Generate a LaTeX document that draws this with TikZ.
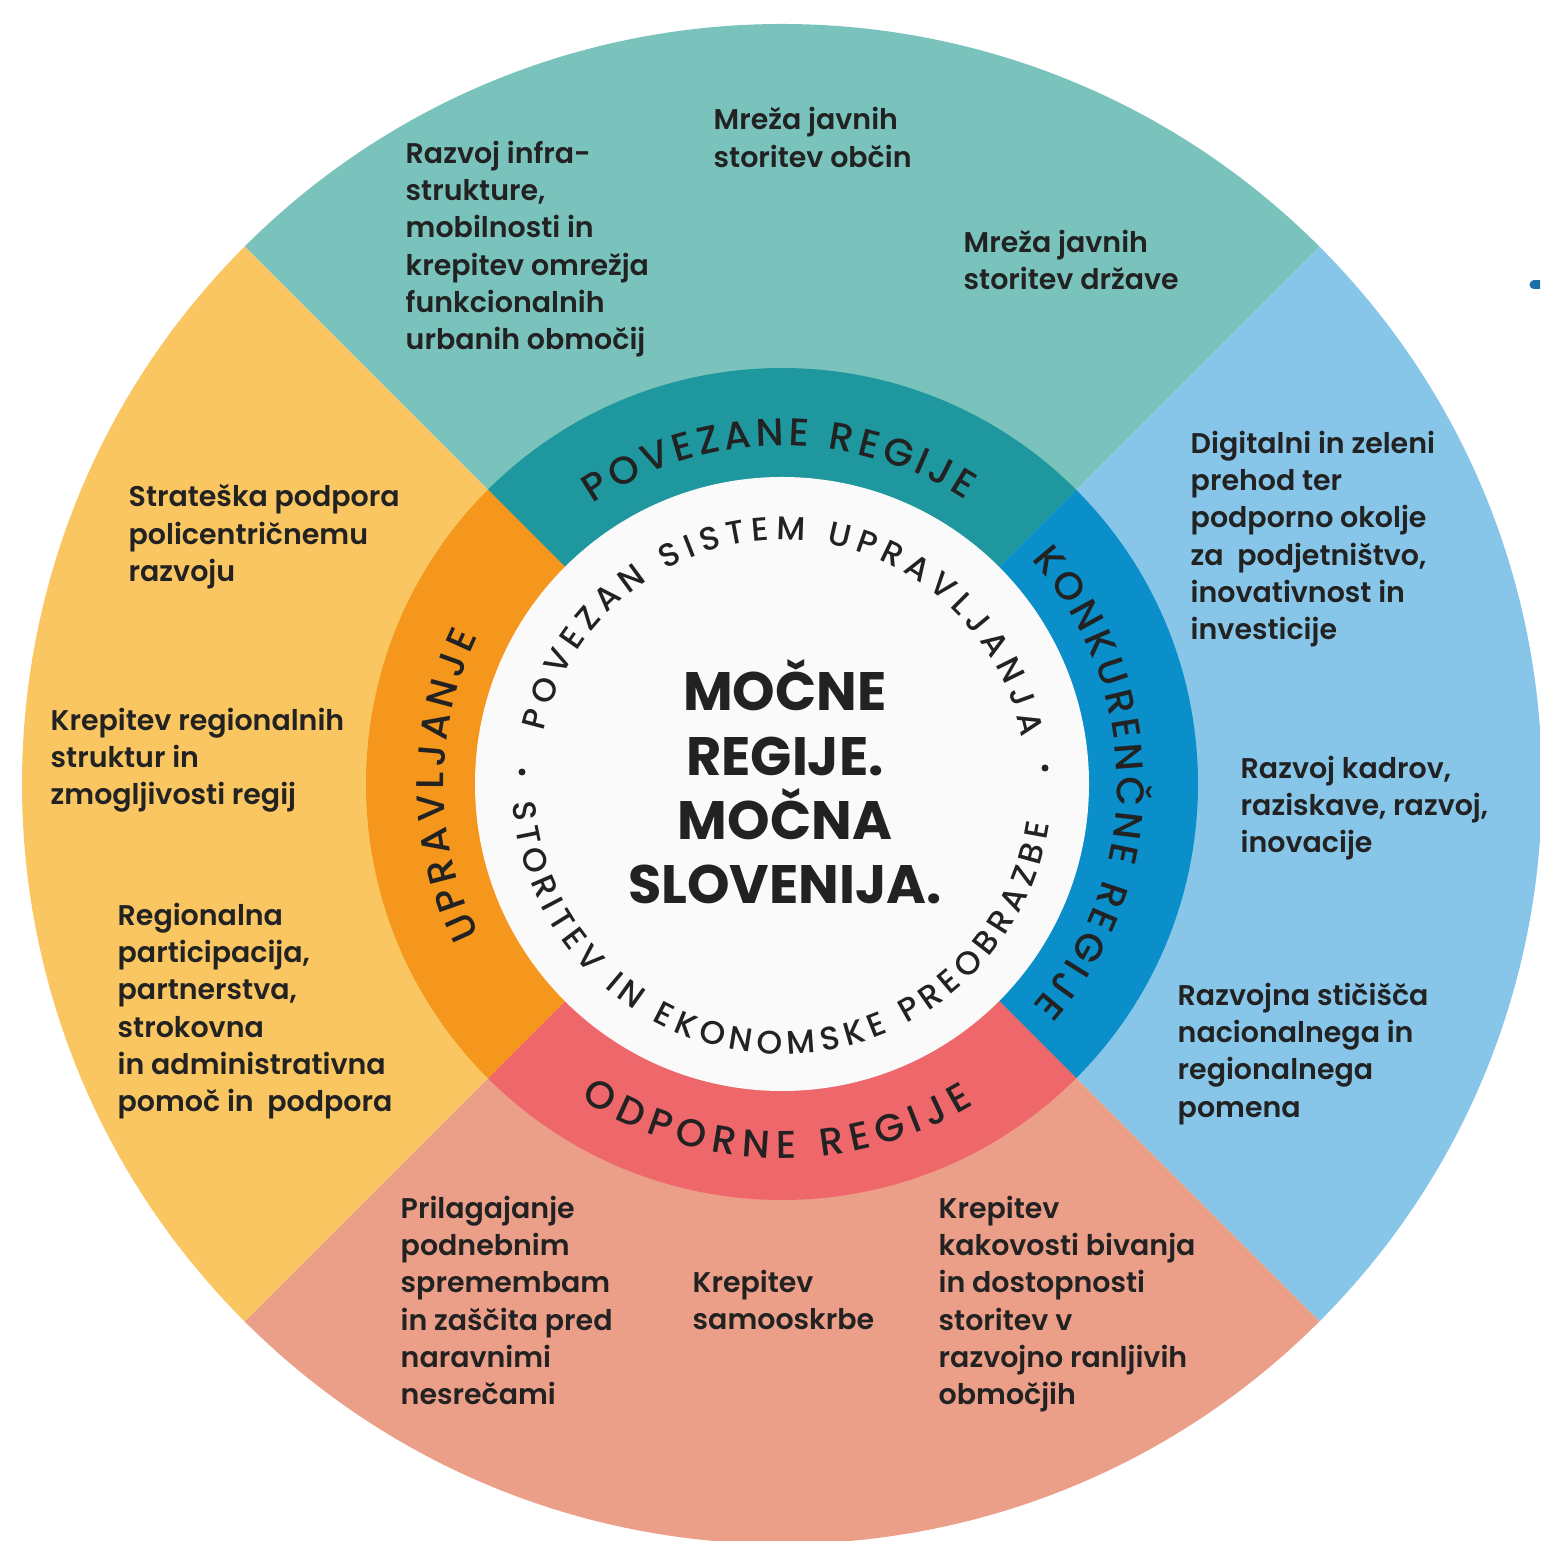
\documentclass[tikz,border=0pt]{standalone}
\usepackage{fontspec}
\setmainfont{Poppins}[UprightFont=*-SemiBold, BoldFont=*-Bold]
\newfontfamily\ringfont{Poppins}[UprightFont=*-Medium]
\usepackage{tikz}
\usetikzlibrary{positioning, decorations.text}

\definecolor{tealout}{HTML}{79C3BC}
\definecolor{tealring}{HTML}{1F979E}
\definecolor{blueout}{HTML}{87C6E9}
\definecolor{bluering}{HTML}{0A8FCB}
\definecolor{salmonout}{HTML}{EC9F88}
\definecolor{redring}{HTML}{EE676A}
\definecolor{yellowout}{HTML}{F9C661}
\definecolor{orangering}{HTML}{F4971C}
\definecolor{ink}{HTML}{222222}
\definecolor{hubwhite}{HTML}{FAFAFA}
\definecolor{markblue}{HTML}{1F6FA8}

\newcommand{\ringsize}{\ringfont\fontsize{11}{13}\selectfont}
\newcommand{\innersize}{\ringfont\fontsize{9.3}{11}\selectfont}

\tikzstyle{goal} = [inner sep=0pt, align=left, anchor=north west, text=ink, font=\fontsize{8.1}{10.63}\selectfont]
\tikzstyle{hub} = [inner sep=0pt, align=center, text=ink, font=\bfseries\fontsize{15.4}{18.3}\selectfont]
\tikzstyle{curved} = [decorate, decoration={text along path, text align={fit to path}, text color=ink}]

\begin{document}
\begin{tikzpicture}[x=0.1mm, y=0.1mm]
        \useasboundingbox (-782,-757) rectangle (758,784);
        \clip (-782,-757) rectangle (758,784);

        % outer sectors
        \fill[tealout] (0,0) -- (45:760) arc[start angle=45, end angle=135, radius=760] -- cycle;
        \fill[blueout] (0,0) -- (-45:760) arc[start angle=-45, end angle=45, radius=760] -- cycle;
        \fill[salmonout] (0,0) -- (-135:760) arc[start angle=-135, end angle=-45, radius=760] -- cycle;
        \fill[yellowout] (0,0) -- (135:760) arc[start angle=135, end angle=225, radius=760] -- cycle;

        % middle ring
        \fill[tealring] (0,0) -- (45:416) arc[start angle=45, end angle=135, radius=416] -- cycle;
        \fill[bluering] (0,0) -- (-45:416) arc[start angle=-45, end angle=45, radius=416] -- cycle;
        \fill[redring] (0,0) -- (-135:416) arc[start angle=-135, end angle=-45, radius=416] -- cycle;
        \fill[orangering] (0,0) -- (135:416) arc[start angle=135, end angle=225, radius=416] -- cycle;
        \fill[hubwhite] (0,0) circle[radius=307];

        % ring labels
        \path[curved, decoration={text={|\ringsize|POVEZANE REGIJE}}] (124:338) arc[start angle=124, end angle=57, radius=338];
        \path[curved, decoration={text={|\ringsize|KONKURENČNE REGIJE}}] (42:335) arc[start angle=42, end angle=-41.5, radius=335];
        \path[curved, decoration={text={|\ringsize|ODPORNE REGIJE}}] (-122.5:374) arc[start angle=-122.5, end angle=-59, radius=374];
        \path[curved, decoration={text={|\ringsize|UPRAVLJANJE}}] (206.5:338) arc[start angle=206.5, end angle=154, radius=338];

        % inner circle
        \path[curved, decoration={text={|\innersize|POVEZAN SISTEM UPRAVLJANJA}}] (167.5:244) arc[start angle=167.5, end angle=11, radius=244];
        \path[curved, decoration={text={|\innersize|STORITEV IN EKONOMSKE PREOBRAZBE}}] (-176:270) arc[start angle=-176, end angle=-8.5, radius=270];
        \fill[ink] (-260,12) circle[radius=3.5];
        \fill[ink] (263,16) circle[radius=3.5];
        \node (motto) [hub] at (3,2) {MOČNE\\REGIJE.\\MOČNA\\SLOVENIJA.};

        % povezane regije
        \node (infra) [goal] at (-377,644) {Razvoj infra-\\strukture,\\mobilnosti in\\krepitev omrežja\\funkcionalnih\\urbanih območij};
        \node (mreza_obcin) [goal] at (-69,677) {Mreža javnih\\storitev občin};
        \node (mreza_drzave) [goal] at (181,555) {Mreža javnih\\storitev države};

        % konkurenčne regije
        \node (prehod) [goal] at (408,354) {Digitalni in zeleni\\prehod ter\\podporno okolje\\za\ \ podjetništvo,\\inovativnost in\\investicije};
        \node (kadri) [goal] at (458,29) {Razvoj kadrov,\\raziskave, razvoj,\\inovacije};
        \node (sticisca) [goal] at (395,-198) {Razvojna stičišča\\nacionalnega in\\regionalnega\\pomena};

        % odporne regije
        \node (podnebje) [goal] at (-382,-411) {Prilagajanje\\podnebnim\\spremembam\\in zaščita pred\\naravnimi\\nesrečami};
        \node (samooskrba) [goal] at (-90,-485) {Krepitev\\samooskrbe};
        \node (bivanje) [goal] at (156,-411) {Krepitev\\kakovosti bivanja\\in dostopnosti\\storitev v\\razvojno ranljivih\\območjih};

        % upravljanje
        \node (policentricnost) [goal] at (-654,300) {Strateška podpora\\policentričnemu\\razvoju};
        \node (strukture) [goal] at (-732,77) {Krepitev regionalnih\\struktur in\\zmogljivosti regij};
        \node (participacija) [goal] at (-665,-118) {Regionalna\\participacija,\\partnerstva,\\strokovna\\in administrativna\\pomoč in\ \ podpora};

        \draw[markblue, line width=0.9mm, line cap=round] (752,499) -- (770,499);
\end{tikzpicture}
\end{document}
